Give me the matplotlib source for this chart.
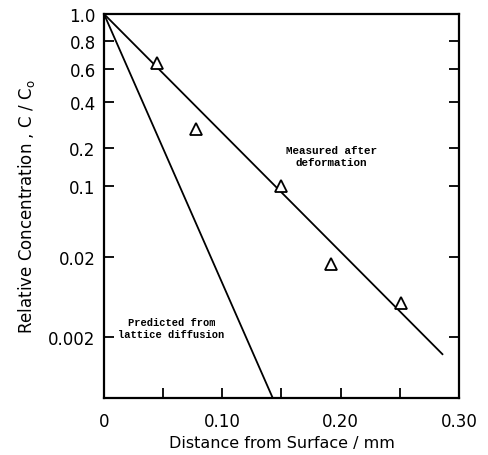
import math
import numpy as np
import matplotlib
matplotlib.use('Agg')
import matplotlib.pyplot as plt
from matplotlib.ticker import FixedLocator, NullLocator, FixedFormatter

# ---- data ----
x_measured = [0.045, 0.078, 0.150, 0.192, 0.251]
c_measured = [0.64, 0.27, 0.10, 0.017, 0.0058]

fit_measured_x = [0.0, 0.286]
fit_measured_c = [1.0, 0.00115]

fit_predicted_x = [0.0, 0.1427]
fit_predicted_c = [1.0, 0.00024]

y_ticks = [1.0, 0.8, 0.6, 0.4, 0.2, 0.1, 0.02, 0.002]
y_tick_labels = ['1.0', '0.8', '0.6', '0.4', '0.2', '0.1', '0.02', '0.002']
x_ticks = [0.0, 0.10, 0.20, 0.30]
x_tick_labels = ['0', '0.10', '0.20', '0.30']
x_minor = [0.05, 0.15, 0.25]

# ---- erfc-probability scale ----
_erfc = np.vectorize(math.erfc, otypes=[float])

def erfcinv(c):
    c = np.clip(np.asarray(c, dtype=float), 1e-300, 2 - 1e-15)
    lo = np.full(c.shape, -6.0)
    hi = np.full(c.shape, 27.0)
    for _ in range(70):
        mid = 0.5 * (lo + hi)
        f = _erfc(mid)
        m = f > c
        lo = np.where(m, mid, lo)
        hi = np.where(m, hi, mid)
    return 0.5 * (lo + hi)

def forward(c):
    return -erfcinv(c)

def inverse(z):
    return _erfc(-np.asarray(z, dtype=float))

plt.rcParams['font.family'] = ['DejaVu Sans']

fig = plt.figure(figsize=(4.89, 4.56), dpi=100)
ax = fig.add_axes([104/489, 1 - 399/456, (459-104)/489, (399-15)/456])
ax.set_yscale('function', functions=(forward, inverse))

ax.plot(fit_measured_x, fit_measured_c, color='black', lw=1.3)
ax.plot(fit_predicted_x, fit_predicted_c, color='black', lw=1.3)
ax.plot(x_measured, c_measured, linestyle='none', marker='^', markersize=8,
        markerfacecolor='white', markeredgecolor='black', markeredgewidth=1.3)

ax.set_xlim(0, 0.30)
ax.set_ylim(float(_erfc(2.595)), 1.0)

ax.yaxis.set_major_locator(FixedLocator(y_ticks))
ax.yaxis.set_major_formatter(FixedFormatter(y_tick_labels))
ax.yaxis.set_minor_locator(NullLocator())
ax.xaxis.set_major_locator(FixedLocator(x_ticks))
ax.xaxis.set_major_formatter(FixedFormatter(x_tick_labels))
ax.xaxis.set_minor_locator(FixedLocator(x_minor))

ax.tick_params(axis='both', which='both', direction='in', length=7.5, width=1.3,
               labelsize=12)
ax.tick_params(axis='y', which='both', right=True, pad=6)
ax.tick_params(axis='x', which='both', pad=10)
for s in ax.spines.values():
    s.set_linewidth(1.6)

ax.set_xlabel('Distance from Surface / mm', fontsize=11.5, labelpad=4)
ax.set_ylabel('Relative Concentration , C / C$_\\mathregular{o}$', fontsize=12, labelpad=8)

ax.text(0.192, 0.175, 'Measured after\ndeformation', ha='center', va='center',
        family='Liberation Mono', fontweight='bold', fontsize=7.8, linespacing=1.2)
ax.text(0.057, 0.0027, 'Predicted from\nlattice diffusion', ha='center', va='center',
        family='Liberation Mono', fontweight='bold', fontsize=7.5, linespacing=1.2)

fig.savefig('out.png', dpi=100)
